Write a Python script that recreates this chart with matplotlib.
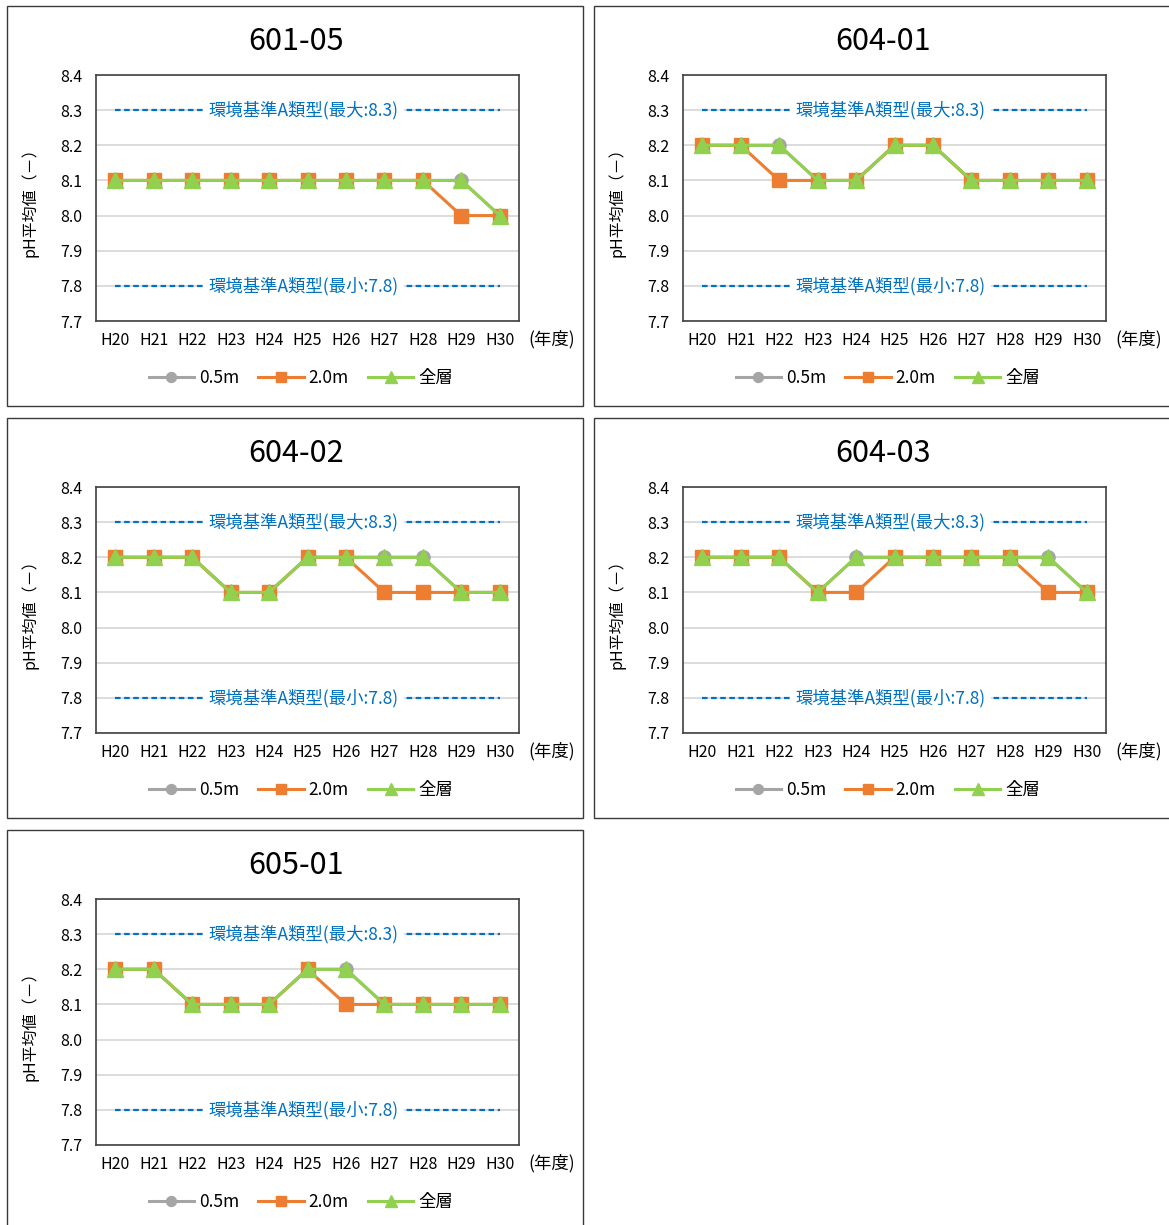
import matplotlib
matplotlib.use("Agg")
import matplotlib.pyplot as plt
from matplotlib.patches import Rectangle
from matplotlib.lines import Line2D

plt.rcParams['font.family'] = ['Noto Sans CJK JP', 'DejaVu Sans']

W, H = 1169, 1225

# 年度
years = ['H20', 'H21', 'H22', 'H23', 'H24', 'H25', 'H26', 'H27', 'H28', 'H29', 'H30']

# 地点ごとの pH 平均値 (0.5m / 2.0m / 全層)
s60105_05 = [8.1, 8.1, 8.1, 8.1, 8.1, 8.1, 8.1, 8.1, 8.1, 8.1, 8.0]
s60105_20 = [8.1, 8.1, 8.1, 8.1, 8.1, 8.1, 8.1, 8.1, 8.1, 8.0, 8.0]
s60105_all = [8.1, 8.1, 8.1, 8.1, 8.1, 8.1, 8.1, 8.1, 8.1, 8.1, 8.0]

s60401_05 = [8.2, 8.2, 8.2, 8.1, 8.1, 8.2, 8.2, 8.1, 8.1, 8.1, 8.1]
s60401_20 = [8.2, 8.2, 8.1, 8.1, 8.1, 8.2, 8.2, 8.1, 8.1, 8.1, 8.1]
s60401_all = [8.2, 8.2, 8.2, 8.1, 8.1, 8.2, 8.2, 8.1, 8.1, 8.1, 8.1]

s60402_05 = [8.2, 8.2, 8.2, 8.1, 8.1, 8.2, 8.2, 8.2, 8.2, 8.1, 8.1]
s60402_20 = [8.2, 8.2, 8.2, 8.1, 8.1, 8.2, 8.2, 8.1, 8.1, 8.1, 8.1]
s60402_all = [8.2, 8.2, 8.2, 8.1, 8.1, 8.2, 8.2, 8.2, 8.2, 8.1, 8.1]

s60403_05 = [8.2, 8.2, 8.2, 8.1, 8.2, 8.2, 8.2, 8.2, 8.2, 8.2, 8.1]
s60403_20 = [8.2, 8.2, 8.2, 8.1, 8.1, 8.2, 8.2, 8.2, 8.2, 8.1, 8.1]
s60403_all = [8.2, 8.2, 8.2, 8.1, 8.2, 8.2, 8.2, 8.2, 8.2, 8.2, 8.1]

s60501_05 = [8.2, 8.2, 8.1, 8.1, 8.1, 8.2, 8.2, 8.1, 8.1, 8.1, 8.1]
s60501_20 = [8.2, 8.2, 8.1, 8.1, 8.1, 8.2, 8.1, 8.1, 8.1, 8.1, 8.1]
s60501_all = [8.2, 8.2, 8.1, 8.1, 8.1, 8.2, 8.2, 8.1, 8.1, 8.1, 8.1]

stations = ['601-05', '604-01', '604-02', '604-03', '605-01']
series_05 = [s60105_05, s60401_05, s60402_05, s60403_05, s60501_05]
series_20 = [s60105_20, s60401_20, s60402_20, s60403_20, s60501_20]
series_all = [s60105_all, s60401_all, s60402_all, s60403_all, s60501_all]

# 環境基準 A類型
std_max = 8.3
std_min = 7.8
yticks = [7.7, 7.8, 7.9, 8.0, 8.1, 8.2, 8.3, 8.4]

labels = ['0.5m', '2.0m', '全層']
colors = ['#A5A5A5', '#ED7D31', '#92D050']
markers = ['o', 's', '^']
msizes = [9.5, 10, 11]

# パネル左上の位置 (px)
origins = [(7, 6), (594, 6), (7, 418), (594, 418), (7, 830)]


def fx(x):
    return x / W


def fy(y):
    return 1 - y / H


fig = plt.figure(figsize=(W / 100, H / 100), dpi=100)

for i, (ox, oy) in enumerate(origins):
    # パネル枠
    fig.patches.append(Rectangle((fx(ox), fy(oy + 400)), 576 / W, 400 / H,
                                 transform=fig.transFigure, fill=False,
                                 edgecolor='#3A3A3A', linewidth=1.0))

    ax = fig.add_axes([fx(ox + 89), fy(oy + 315), 423 / W, 246 / H])
    x = list(range(len(years)))

    for vals, c, m, ms, lab in zip([series_05[i], series_20[i], series_all[i]],
                                   colors, markers, msizes, labels):
        ax.plot(x, vals, color=c, marker=m, markersize=ms, linewidth=2.2,
                label=lab, zorder=3)

    # 基準線
    for v, txt in [(std_max, '環境基準A類型(最大:8.3)'), (std_min, '環境基準A類型(最小:7.8)')]:
        ax.plot([0, 10], [v, v], color='#0070C0', linewidth=1.6,
                linestyle=(0, (2.5, 1.6)), zorder=2)
        ax.text(4.9, v, txt, color='#0070C0', fontsize=12.5, ha='center', va='center',
                zorder=2.5, bbox=dict(facecolor='white', edgecolor='none', pad=4))

    ax.set_xlim(-0.5, 10.5)
    ax.set_ylim(7.7, 8.4)
    ax.set_yticks(yticks)
    ax.set_yticklabels([f'{v:.1f}' for v in yticks])
    ax.set_xticks(x)
    ax.set_xticklabels(years)
    ax.tick_params(length=0, labelsize=11.5, pad=8)
    ax.tick_params(axis='y', pad=10)
    ax.grid(axis='y', color='#D9D9D9', linewidth=1.3, zorder=0)
    ax.set_axisbelow(True)
    for sp in ax.spines.values():
        sp.set_color('#404040')
        sp.set_linewidth(1.2)

    fig.text(fx(ox + 289), fy(oy + 35), stations[i], fontsize=22,
             ha='center', va='center')
    fig.text(fx(ox + 23), fy(oy + 192), 'pH平均値（－）', fontsize=11.5,
             rotation=90, ha='center', va='center')
    fig.text(fx(ox + 545), fy(oy + 333), '(年度)', fontsize=12.5,
             ha='center', va='center')

    handles = [Line2D([], [], color=c, marker=m, markersize=ms * 0.75, linewidth=2.2)
               for c, m, ms in zip(colors, markers, msizes)]
    ax.legend(handles, labels, loc='center', ncol=3, frameon=False,
              bbox_to_anchor=(fx(ox + 294), fy(oy + 372)),
              bbox_transform=fig.transFigure, fontsize=12.5,
              handlelength=2.6, handletextpad=0.3, columnspacing=1.1)

fig.savefig('out.png', dpi=100, facecolor='white')
